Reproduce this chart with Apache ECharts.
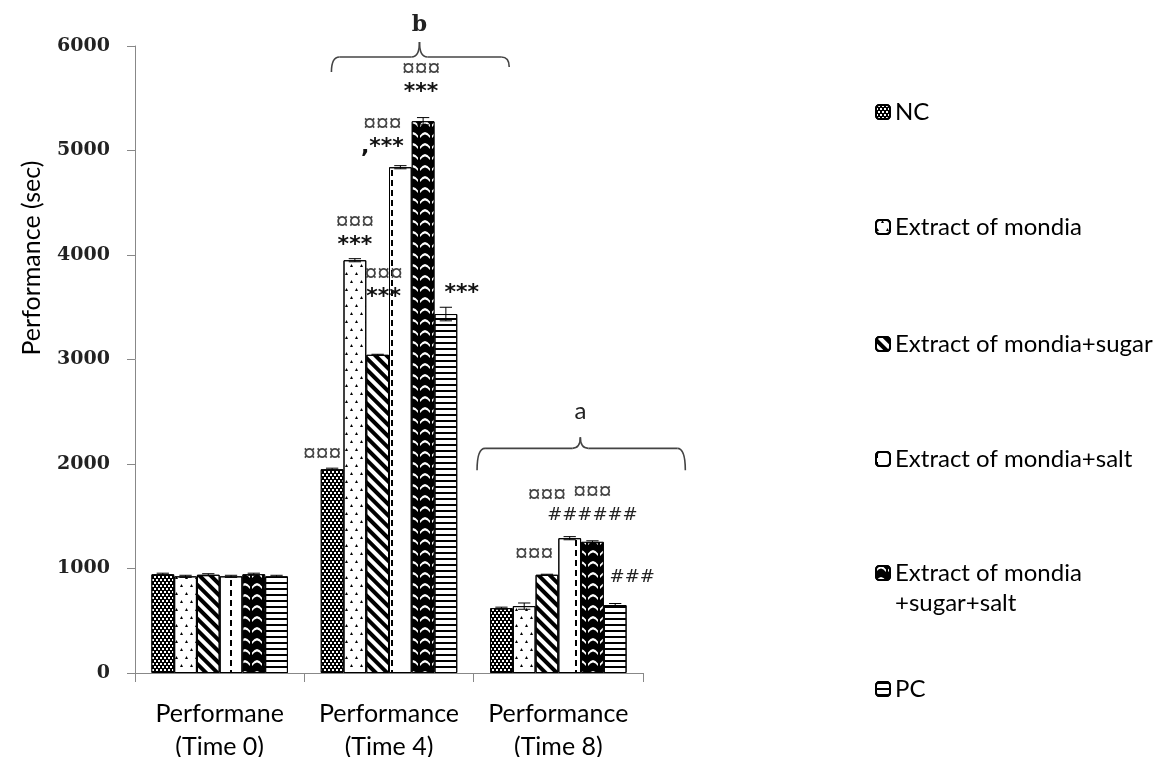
<!DOCTYPE html>
<html>
<head>
<meta charset="utf-8">
<title>Performance</title>
<script src="https://cdn.jsdelivr.net/npm/echarts@6/dist/echarts.min.js"></script>
<style>
  html, body { margin: 0; padding: 0; background: #fff; }
  #chart { width: 1156px; height: 757px; }
</style>
</head>
<body>
<div id="chart"></div>
<script>
// x categories
const categories = ['Performane\n(Time 0)', 'Performance\n(Time 4)', 'Performance\n(Time 8)']
const seriesNames = [
  'NC',
  'Extract of mondia',
  'Extract of mondia+sugar',
  'Extract of mondia+salt',
  'Extract of mondia\n+sugar+salt',
  'PC'
]

// y axis ticks
const yMin = 0
const yMax = 6000
const yStep = 1000

// bar values (sec)
const nc = [945, 1950, 620]
const mondia = [925, 3950, 640]
const mondiaSugar = [940, 3045, 940]
const mondiaSalt = [925, 4840, 1290]
const mondiaSugarSalt = [945, 5280, 1255]
const pc = [925, 3435, 650]

// error bar half widths
const ncErr = [10, 10, 10]
const mondiaErr = [10, 15, 30]
const mondiaSugarErr = [10, 5, 5]
const mondiaSaltErr = [10, 15, 15]
const mondiaSugarSaltErr = [10, 35, 10]
const pcErr = [10, 65, 15]

// significance marks above the bars
const ncMarks = ['', '¤¤¤', '']
const mondiaMarks = ['', '¤¤¤\n***', '¤¤¤']
const mondiaSugarMarks = ['', '¤¤¤\n***', '¤¤¤']
const mondiaSaltMarks = ['', '¤¤¤\n,***', '']
const mondiaSugarSaltMarks = ['', '¤¤¤\n***', '¤¤¤\n######']
const pcMarks = ['', '***', '###']

// group brackets
const bracketCats = [1, 2]
const bracketLevels = [5895, 2150]
const bracketLabels = ['b', 'a']

const values = [nc, mondia, mondiaSugar, mondiaSalt, mondiaSugarSalt, pc]
const errors = [ncErr, mondiaErr, mondiaSugarErr, mondiaSaltErr, mondiaSugarSaltErr, pcErr]
const marks = [ncMarks, mondiaMarks, mondiaSugarMarks, mondiaSaltMarks, mondiaSugarSaltMarks, pcMarks]

// ---- styling ----
const CAT_GAP = 0.194

const barFill = ['#000', '#fff', '#fff', '#fff', '#000', '#fff']
const decals = [
  // NC: dark weave
  { symbol: 'rect', symbolSize: 1, color: '#fff', dashArrayX: [[2, 2], [0, 2, 2, 0]], dashArrayY: [2, 1] },
  // mondia: sparse specks
  { symbol: 'triangle', symbolSize: 1, color: '#000', dashArrayX: [[3, 7], [0, 5, 3, 2]], dashArrayY: [3, 5] },
  // mondia+sugar: heavy diagonal
  { symbol: 'rect', symbolSize: 1, color: '#000', dashArrayX: [1, 0], dashArrayY: [4, 4], rotation: Math.PI / 4 },
  // mondia+salt: dashed vertical
  { symbol: 'rect', symbolSize: 1, color: '#000', dashArrayX: [1.5, 21], dashArrayY: [6, 4] },
  // mondia+sugar+salt: white waves on black
  { symbol: 'path://M0,4 Q5,-2 10,4 L10,6 Q5,0 0,6 Z', symbolSize: 1, symbolKeepAspect: false, color: '#fff', dashArrayX: [10, 2], dashArrayY: [6, 5] },
  // PC: horizontal stripes
  { symbol: 'rect', symbolSize: 1, color: '#000', dashArrayX: [1, 0], dashArrayY: [1.5, 3.5] }
]

// pixel nudges for the mark labels
const markOffsets = [
  [[0, 0], [-10, -3], [0, 0]],
  [[0, 0], [0, -3], [10, -40]],
  [[0, 0], [6, -46], [0, -68]],
  [[0, 0], [-18, -8], [0, 0]],
  [[0, 0], [-2, -17], [0, -15]],
  [[0, 0], [16, -9], [17, -16]]
]

const bracketShapes = [
  { from: -0.34, to: 0.71, tip: 0.18, curlL: 15, curlR: 10, rise: 15, labelGap: 17, font: 'bold 22px "DejaVu Serif"' },
  { from: -0.48, to: 0.75, tip: 0.13, curlL: 22, curlR: 22, rise: 11, labelGap: 26, font: '24px Lato' }
]

const legendCenters = [107, 222, 339, 454, 568, 684]

const richMarks = {
  c: { fontFamily: 'Liberation Sans', fontSize: 23, color: '#444', lineHeight: 23 },
  s: { fontFamily: 'DejaVu Sans', fontWeight: 'bold', fontSize: 22, color: '#111', lineHeight: 23 },
  h: { fontFamily: 'DejaVu Sans', fontSize: 18, color: '#222', lineHeight: 23 }
}

function markText(str) {
  return str.split('\n').map(line => {
    const key = line.indexOf('¤') >= 0 ? 'c' : (line.indexOf('#') >= 0 ? 'h' : 's')
    return '{' + key + '|' + line + '}'
  }).join('\n')
}

function errorBarItem(params, api) {
  const cat = api.value(0)
  const val = api.value(1)
  const err = api.value(2)
  const s = api.value(3)
  const center = api.coord([cat, val])[0]
  const bandW = api.size([1, 0])[0]
  const barW = bandW * (1 - CAT_GAP) / seriesNames.length
  const x = center + (s - (seriesNames.length - 1) / 2) * barW
  const hi = api.coord([cat, val + err])[1]
  const lo = api.coord([cat, val - err])[1]
  const cap = barW * 0.27
  const st = { stroke: '#000', lineWidth: 1 }
  return {
    type: 'group',
    children: [
      { type: 'line', shape: { x1: x, y1: hi, x2: x, y2: lo }, style: st },
      { type: 'line', shape: { x1: x - cap, y1: hi, x2: x + cap, y2: hi }, style: st },
      { type: 'line', shape: { x1: x - cap, y1: lo, x2: x + cap, y2: lo }, style: st }
    ]
  }
}

function bracketItem(params, api) {
  const cat = api.value(0)
  const lvl = api.value(1)
  const sh = bracketShapes[params.dataIndex]
  const p = api.coord([cat, lvl])
  const bandW = api.size([1, 0])[0]
  const y = p[1]
  const x0 = p[0] + sh.from * bandW
  const x1 = p[0] + sh.to * bandW
  const xt = p[0] + sh.tip * bandW
  const r = 8
  const st = { stroke: '#444', lineWidth: 1.6, fill: null }
  return {
    type: 'group',
    children: [
      { type: 'bezierCurve', shape: { x1: x0, y1: y + sh.curlL, cpx1: x0, cpy1: y, x2: x0 + r, y2: y }, style: st },
      { type: 'line', shape: { x1: x0 + r, y1: y, x2: xt - r, y2: y }, style: st },
      { type: 'bezierCurve', shape: { x1: xt - r, y1: y, cpx1: xt, cpy1: y, x2: xt, y2: y - sh.rise }, style: st },
      { type: 'bezierCurve', shape: { x1: xt, y1: y - sh.rise, cpx1: xt, cpy1: y, x2: xt + r, y2: y }, style: st },
      { type: 'line', shape: { x1: xt + r, y1: y, x2: x1 - r, y2: y }, style: st },
      { type: 'bezierCurve', shape: { x1: x1 - r, y1: y, cpx1: x1, cpy1: y, x2: x1, y2: y + sh.curlR }, style: st },
      {
        type: 'text',
        x: xt,
        y: y - sh.rise - sh.labelGap,
        style: { text: bracketLabels[params.dataIndex], font: sh.font, fill: '#222', align: 'center', verticalAlign: 'middle' }
      }
    ]
  }
}

const barSeries = values.map((vals, s) => ({
  name: seriesNames[s],
  type: 'bar',
  barGap: '0%',
  barCategoryGap: (CAT_GAP * 100) + '%',
  itemStyle: { color: barFill[s], borderColor: '#000', borderWidth: 1, decal: decals[s] },
  label: { show: false, position: 'top', distance: 0, rich: richMarks },
  emphasis: { disabled: true },
  data: vals.map((v, c) => ({
    value: v,
    label: {
      show: marks[s][c] !== '',
      formatter: markText(marks[s][c]),
      offset: markOffsets[s][c]
    }
  }))
}))

const errorData = []
values.forEach((vals, s) => {
  vals.forEach((v, c) => errorData.push([c, v, errors[s][c], s]))
})

// legend: one block per entry so two-line names keep the icon on their first line
const legends = seriesNames.map((name, i) => {
  const twoLines = name.indexOf('\n') >= 0
  return {
    data: [name],
    orient: 'vertical',
    left: 870,
    top: legendCenters[i] - (twoLines ? 45 : 15),
    itemWidth: 14,
    itemHeight: 14,
    selectedMode: false,
    formatter: twoLines ? n => '\u00a0\n' + n : '{name}',
    textStyle: { fontFamily: 'Lato', fontSize: 24, color: '#000', lineHeight: 30 }
  }
})

const chart = echarts.init(document.getElementById('chart'))
chart.setOption({
  animation: false,
  backgroundColor: '#fff',
  grid: { left: 135, right: 513, top: 46, bottom: 84, outerBoundsMode: 'none' },
  legend: legends,
  xAxis: {
    type: 'category',
    data: categories,
    axisLine: { lineStyle: { color: '#888', width: 1 } },
    axisTick: { show: true, length: 9, lineStyle: { color: '#888' } },
    axisLabel: { interval: 0, margin: 24, fontFamily: 'Lato', fontSize: 25, lineHeight: 33, color: '#000' }
  },
  yAxis: {
    type: 'value',
    min: yMin,
    max: yMax,
    interval: yStep,
    axisLine: { show: true, lineStyle: { color: '#888', width: 1 } },
    axisTick: { show: true, length: 8, lineStyle: { color: '#888' } },
    splitLine: { show: false },
    axisLabel: {
      margin: 25,
      formatter: v => String(v),
      fontFamily: 'DejaVu Serif',
      fontWeight: 'bold',
      fontSize: 19,
      color: '#222'
    }
  },
  graphic: [{
    type: 'text',
    x: 32,
    y: 258,
    rotation: Math.PI / 2,
    style: { text: 'Performance (sec)', font: '25px Lato', fill: '#000', align: 'center', verticalAlign: 'middle' }
  }],
  series: barSeries.concat([
    {
      name: 'error',
      type: 'custom',
      renderItem: errorBarItem,
      data: errorData,
      z: 5,
      silent: true
    },
    {
      name: 'brackets',
      type: 'custom',
      renderItem: bracketItem,
      clip: false,
      data: bracketCats.map((c, i) => [c, bracketLevels[i]]),
      z: 5,
      silent: true
    }
  ])
})
</script>
</body>
</html>
